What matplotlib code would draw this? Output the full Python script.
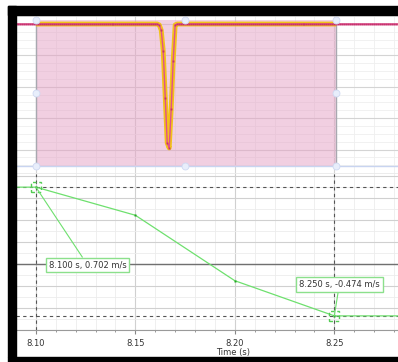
import numpy as np
import matplotlib
matplotlib.use("Agg")
import matplotlib.pyplot as plt
from matplotlib.patches import Rectangle

# force sensor, sampled every 1 ms
force_t = np.round(np.arange(8.090, 8.2825, 0.001), 3)
force_base = 0.0
dip_t = [8.162, 8.163, 8.164, 8.165, 8.166, 8.167, 8.168, 8.169, 8.170]
dip_f = [-0.3, -2.0, -8.6, -23.6, -37.9, -39.5, -27.1, -11.8, -0.3]

# velocity, sampled every 50 ms
vel_t = [8.05, 8.10, 8.15, 8.20, 8.25, 8.30]
vel_v = [0.702, 0.702, 0.445, -0.153, -0.474, -0.474]

time_ticks = [8.10, 8.15, 8.20, 8.25]
time_labels = ["8.10", "8.15", "8.20", "8.25"]

sel_t0, sel_t1 = 8.10, 8.251
cur_a = (8.100, 0.702)
cur_b = (8.250, -0.474)

force = np.full(len(force_t), force_base)
for tt, ff in zip(dip_t, dip_f):
    force[np.isclose(force_t, tt)] = ff

W, H = 398, 362
fig = plt.figure(figsize=(W / 100, H / 100), dpi=100)
fig.patch.set_facecolor("white")

def box(x0, y0, x1, y1):
    return [x0 / W, 1 - y1 / H, (x1 - x0) / W, (y1 - y0) / H]

ax1 = fig.add_axes(box(16, 15, 398, 174))
ax2 = fig.add_axes(box(16, 174, 398, 330))
xlim = (8.0915, 8.282)
minor_x = np.round(np.arange(8.09, 8.285, 0.01), 2)

# ---- top graph ----
ax1.set_xlim(*xlim)
ax1.set_ylim(-47.8, 2.87)
ax1.set_xticks(time_ticks)
ax1.set_xticks(minor_x, minor=True)
ax1.set_yticks(np.arange(-40, 1, 10))
ax1.set_yticks(np.arange(-47.5, 2.6, 2.5), minor=True)
ax1.grid(which="major", color="#d4d4d4", lw=0.8)
ax1.grid(which="minor", color="#efefef", lw=0.6)
ax1.set_axisbelow(True)
ax1.tick_params(which="both", labelbottom=False, labelleft=False, left=False,
                direction="out", colors="#888888")
ax1.tick_params(which="major", length=3)
ax1.tick_params(which="minor", length=1.5)
for s in ["top", "left", "right"]:
    ax1.spines[s].set_visible(False)
ax1.spines["bottom"].set_color("#9a9a9a")

sel_top, sel_bot = 1.27, -45.2
ax1.add_patch(Rectangle((sel_t0, sel_bot), sel_t1 - sel_t0, sel_top - sel_bot,
                        facecolor="#e4a0c4", alpha=0.5, edgecolor="none", zorder=1.5))
ax1.plot([sel_t0, sel_t0], [sel_bot, sel_top], color="#a8a8b0", lw=1, zorder=1.6)
ax1.plot([sel_t1, sel_t1], [sel_bot, sel_top], color="#a8a8b0", lw=1, zorder=1.6)
ax1.axhline(sel_bot, color="#c8d4f0", lw=1, zorder=1.6)

inside = (force_t >= sel_t0) & (force_t <= sel_t1)
ax1.plot(force_t[inside], force[inside], color="#f2c21a", lw=3.5, solid_capstyle="butt",
         zorder=2)
ax1.plot(force_t, force, color="#e0508c", lw=1, marker="s", ms=1.4,
         mfc="#c8306e", mec="none", zorder=3)

hx = [sel_t0, 8.175, sel_t1, sel_t0, sel_t1, sel_t0, 8.175, sel_t1]
hy = [sel_top, sel_top, sel_top, -22.0, -22.0, sel_bot, sel_bot, sel_bot]
ax1.plot(hx, hy, ls="none", marker="o", ms=5, mfc="#e8eefb", mec="#cfd9f2",
         mew=0.6, zorder=4, clip_on=False)

# ---- bottom graph ----
ax2.set_xlim(*xlim)
ax2.set_ylim(-0.603, 0.822)
ax2.set_xticks(time_ticks)
ax2.set_xticklabels(time_labels)
ax2.set_xticks(minor_x, minor=True)
ax2.set_yticks(np.round(np.arange(-0.6, 0.81, 0.2), 1))
ax2.set_yticks(np.round(np.arange(-0.6, 0.81, 0.1), 1), minor=True)
ax2.grid(which="major", color="#d0d0d0", lw=0.8)
ax2.grid(which="minor", color="#ececec", lw=0.6)
ax2.set_axisbelow(True)
ax2.tick_params(which="both", left=False, labelleft=False, direction="out",
                colors="#888888", labelcolor="#333333", labelsize=6, pad=3.5)
ax2.tick_params(which="major", length=3)
ax2.tick_params(which="minor", length=1.5)
for s in ["top", "left", "right"]:
    ax2.spines[s].set_visible(False)
ax2.spines["bottom"].set_color("#9a9a9a")
ax2.axhline(0, color="#707070", lw=1, zorder=1)

dash = (0, (3, 3))
for (ct, cv) in (cur_a, cur_b):
    ax2.axhline(cv, color="#555555", lw=0.8, ls=dash, zorder=2)
    ax2.axvline(ct, color="#555555", lw=0.8, ls=dash, zorder=2)

ax2.plot(vel_t, vel_v, color="#6ee06e", lw=0.9, marker="s", ms=2,
         mfc="#22a822", mec="none", zorder=3)

for (ct, cv) in (cur_a, cur_b):
    ax2.add_patch(Rectangle((ct - 0.0025, cv - 0.046), 0.005, 0.092, fill=False,
                            edgecolor="#55cc55", lw=1, ls=(0, (2.5, 2)), zorder=4))

bbox = dict(boxstyle="square,pad=0.35", fc="white", ec="#8ce08c", lw=1)
ax2.annotate(f"{cur_a[0]:.3f} s, {cur_a[1]:.3f} m/s", xy=cur_a, xytext=(8.126, -0.01),
             ha="center", va="center", fontsize=6, color="#333333", bbox=bbox,
             arrowprops=dict(arrowstyle="-", color="#6ee06e", lw=0.8,
                             shrinkA=0, shrinkB=0), zorder=5)
ax2.annotate(f"{cur_b[0]:.3f} s, {cur_b[1]:.3f} m/s", xy=cur_b, xytext=(8.2525, -0.189),
             ha="center", va="center", fontsize=6, color="#333333", bbox=bbox,
             arrowprops=dict(arrowstyle="-", color="#6ee06e", lw=0.8,
                             shrinkA=0, shrinkB=0), zorder=5)

fig.text(233 / W, 1 - 353 / H, "Time (s)", ha="center", va="center",
         fontsize=6, color="#333333")

# window frame
for x0, y0, x1, y1 in [(8, 6, 398, 15), (8, 6, 16, 357), (8, 357, 398, 362)]:
    fig.add_artist(Rectangle((x0 / W, 1 - y1 / H), (x1 - x0) / W, (y1 - y0) / H,
                             transform=fig.transFigure, color="black", zorder=10))

fig.savefig("out.png", dpi=100)
